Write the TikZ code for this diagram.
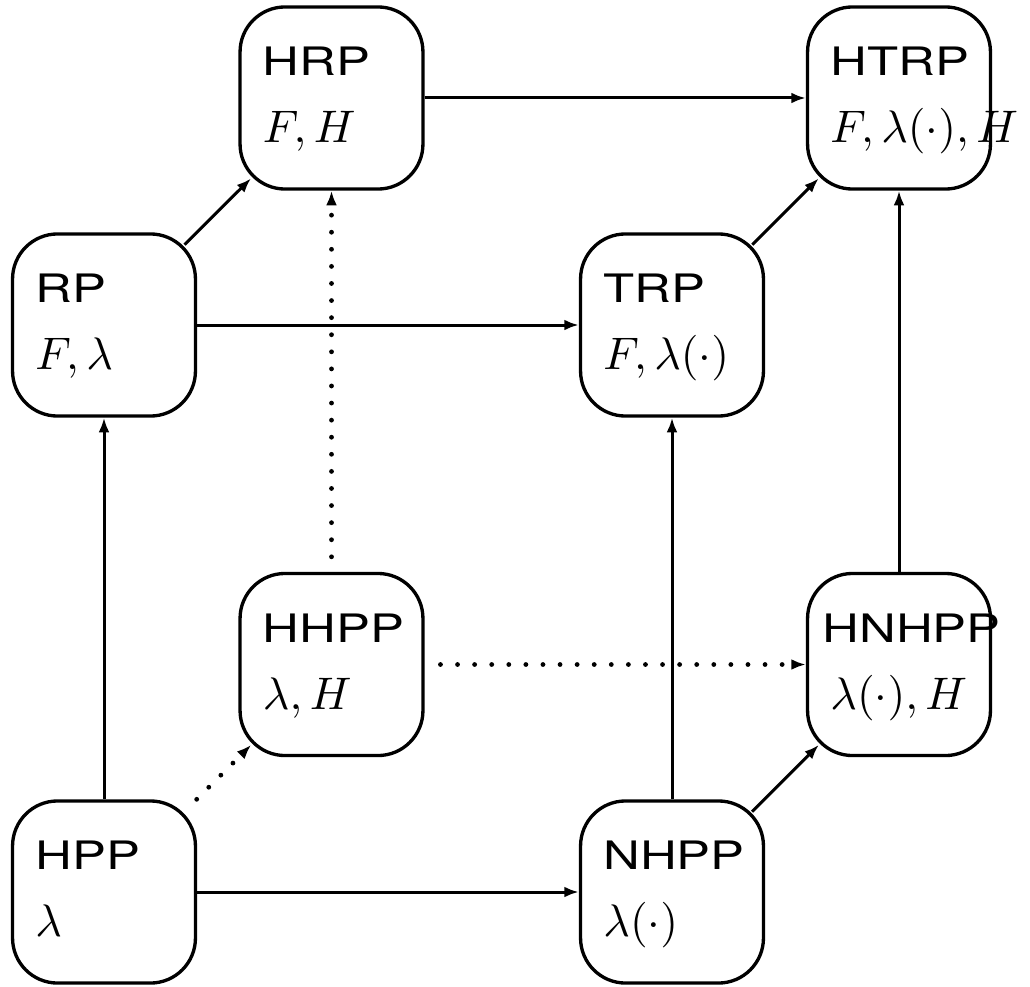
\documentclass[tikz,border=0pt]{standalone}
\usepackage{fontspec}
\usepackage{tikz}
\usetikzlibrary{arrows.meta}
\newfontfamily\helv[FakeStretch=1.3]{TeX Gyre Heros}
\newcommand{\procname}[1]{{\helv\fontsize{9.4pt}{16.1pt}\selectfont #1}}
\tikzstyle{proc}=[draw, line width=0.8pt, rounded corners=10.8pt, minimum width=43.9pt, minimum height=43.7pt, inner xsep=5.5pt, text width=32.9pt, align=left, text height=5.3pt, text depth=16.1pt, font=\fontsize{11pt}{16.1pt}\selectfont]
\tikzstyle{arr}=[line width=0.72pt, -{Latex[length=3.5pt,width=2.6pt]}]
\tikzstyle{diag}=[shorten <=-4.2pt, shorten >=-4.2pt]
\tikzstyle{dots}=[arr, line width=1.15pt, line cap=round, dash pattern=on 0pt off 4.1pt]

\begin{document}
\begin{tikzpicture}[x=0.24pt, y=-0.24pt]
				\useasboundingbox (0,0) rectangle (1030,986);
				%The back face
				\draw (331.5,98) node[proc] (hrp) {\procname{HRP}\\ $F,H$};
				\draw (899,98) node[proc] (htrp) {\procname{HTRP}\\ $F,\lambda(\cdot),H$};
				\draw (331.5,664.5) node[proc] (hhpp) {\procname{HHPP}\\ $\lambda,H$};
				\draw (899,664.5) node[proc] (hnhpp) {\hspace*{-1.9pt}\procname{HNHPP}\\ $\lambda(\cdot),H$};
				
				%The front face
				\draw (104,325) node[proc] (rp) {\procname{RP}\\ $F,\lambda$};
				\draw (672,325) node[proc] (trp) {\procname{TRP}\\ $F,\lambda(\cdot)$};
				\draw (104,892) node[proc] (hpp) {\procname{HPP}\\ $\lambda$};
				\draw (672,892) node[proc] (nhpp) {\procname{NHPP}\\ $\lambda(\cdot)$};
				
				\draw[arr] (hpp) -- (rp);
				\draw[arr] (hpp) -- (nhpp);
				\draw[arr] (nhpp) -- (trp);
				\draw[arr] (rp) -- (trp);
				\draw[arr] (hrp) -- (htrp);
				\draw[arr] (hnhpp) -- (htrp);
				\draw[arr, diag] (rp) -- (hrp);
				\draw[arr, diag] (trp) -- (htrp);
				\draw[arr, diag] (nhpp) -- (hnhpp);
				
				%The hidden edges
				\draw[dots, shorten >=-4.2pt] (hpp) -- (hhpp);
				\draw[dots, shorten <=3.8pt] (hhpp) -- (hnhpp);
				\draw[dots, shorten <=3.6pt] (hhpp) -- (hrp);
			\end{tikzpicture}
\end{document}
